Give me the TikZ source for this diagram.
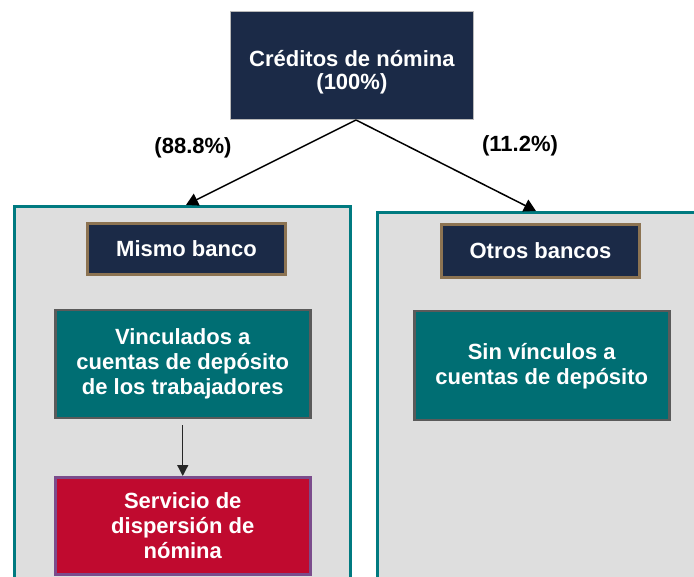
\documentclass[tikz,border=0pt]{standalone}
\usepackage{fontspec}
\setmainfont{Liberation Sans}
\usetikzlibrary{arrows.meta}
\definecolor{navy}{HTML}{1B2A47}
\definecolor{panelfill}{HTML}{DEDEDE}
\definecolor{panelline}{HTML}{007A80}
\definecolor{tealbox}{HTML}{006E73}
\definecolor{crimson}{HTML}{C00A2F}
\definecolor{purpleline}{HTML}{7B4C8C}
\definecolor{brownline}{HTML}{8C7352}
\definecolor{grayline}{HTML}{5A5A5A}
\begin{document}
\begin{tikzpicture}[x=1pt,y=-1pt,
  txt/.style={font=\fontsize{22}{25}\selectfont\bfseries, align=center},
  box/.style={txt, text=white, inner sep=0pt, anchor=north west},
  panel/.style={draw=panelline, fill=panelfill, line width=3pt, inner sep=0pt, anchor=north west},
  headbox/.style={box, fill=navy, draw=brownline, line width=3pt},
  tealnode/.style={box, fill=tealbox, draw=grayline, line width=2.5pt},
  rednode/.style={box, fill=crimson, draw=purpleline, line width=2.5pt},
  pct/.style={txt, text=black, inner sep=0pt},
  arr/.style={line width=1.5pt, -{Triangle[length=12pt,width=13pt]}},
  varr/.style={line width=1.3pt, draw=black!85, -{Triangle[length=11pt,width=11pt]}}
]
\useasboundingbox (0,0) rectangle (694,577);
\fill[white] (0,0) rectangle (694,577);
\clip (0,0) rectangle (694,577);
% panels
\node[panel, minimum width=336pt, minimum height=420pt] (lp) at (13,205) {};
\node[panel, minimum width=344pt, minimum height=420pt] (rp) at (376,211) {};
% top node
\node[box, fill=navy, draw=gray!55, line width=0.8pt, minimum width=243pt, minimum height=108pt] (top) at (230,11)
  {\\[4pt]Créditos de nómina\\[-2pt](100\%)};
% headers
\node[headbox, minimum width=198pt, minimum height=51pt] (mismo) at (86,222) {Mismo banco};
\node[headbox, minimum width=198pt, minimum height=53pt] (otros) at (440,223) {Otros bancos};
% inner boxes
\node[tealnode, minimum width=255pt, minimum height=108pt] (vinc) at (54,309)
  {Vinculados a\\cuentas de depósito\\de los trabajadores};
\node[rednode, minimum width=255pt, minimum height=97pt] (serv) at (54,476)
  {Servicio de\\dispersión de\\nómina};
\node[tealnode, minimum width=255pt, minimum height=109pt] (sin) at (413,310)
  {Sin vínculos a\\cuentas de depósito};
% percentage labels
\node[pct] (l88) at (193,148) {(88.8\%)};
\node[pct] (l11) at (520,146) {(11.2\%)};
% connectors
\coordinate (split) at (356,120);
\coordinate (lend) at (186,205);
\coordinate (rend) at (536,211);
\draw[arr] (split) -- (lend);
\draw[arr] (split) -- (rend);
\draw[varr, shorten <=6pt] (vinc.south) -- (serv.north);
\end{tikzpicture}
\end{document}
